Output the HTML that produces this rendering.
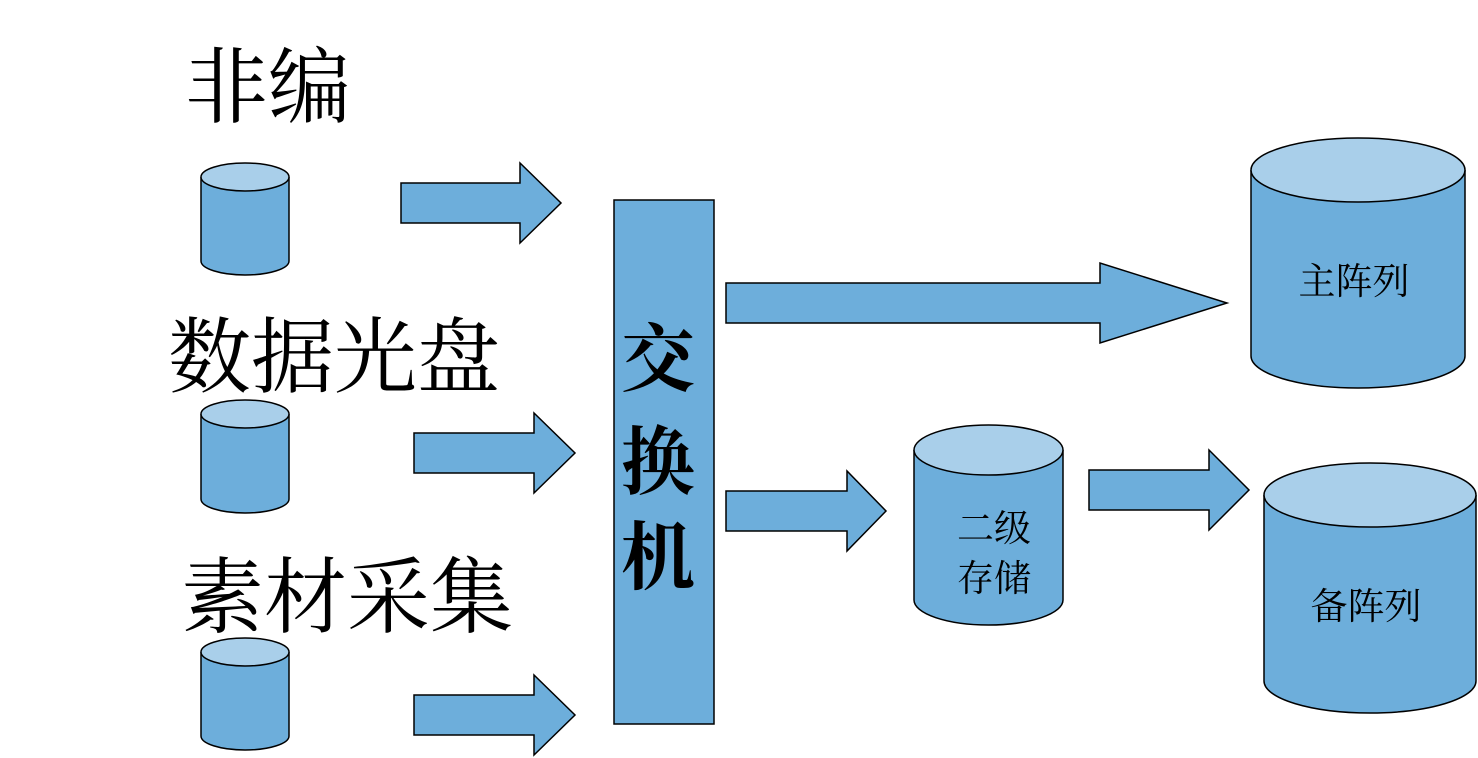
<!DOCTYPE html>
<html><head><meta charset="utf-8"><style>
html,body{margin:0;padding:0;background:#fff;}
svg{display:block}
text{font-family:"Liberation Serif","Noto Serif CJK SC",serif;fill:#000}
</style></head><body>
<svg width="1478" height="758" viewBox="0 0 1478 758" xmlns="http://www.w3.org/2000/svg">
<g stroke="#000" stroke-width="1.5">
<g>
<path d="M201 177 V261 A44 14 0 0 0 289 261 V177" fill="#6DAEDB"/>
<ellipse cx="245" cy="177" rx="44" ry="14" fill="#A9CFEA"/>
</g>
<g>
<path d="M201 414 V499 A44 14 0 0 0 289 499 V414" fill="#6DAEDB"/>
<ellipse cx="245" cy="414" rx="44" ry="14" fill="#A9CFEA"/>
</g>
<g>
<path d="M201 652 V736 A44 14 0 0 0 289 736 V652" fill="#6DAEDB"/>
<ellipse cx="245" cy="652" rx="44" ry="14" fill="#A9CFEA"/>
</g>
<path d="M401 183 H520 V163 L561 203 L520 243 V223 H401 Z" fill="#6DAEDB"/>
<path d="M414 433 H534 V413 L575 453 L534 493 V473 H414 Z" fill="#6DAEDB"/>
<path d="M414 695 H534 V675 L575 715 L534 755 V735 H414 Z" fill="#6DAEDB"/>
<path d="M726 283 H1100 V263 L1227 303 L1100 343 V323 H726 Z" fill="#6DAEDB"/>
<path d="M726 491 H847 V471 L886 511 L847 551 V531 H726 Z" fill="#6DAEDB"/>
<path d="M1089 470 H1209 V450 L1249 490 L1209 530 V510 H1089 Z" fill="#6DAEDB"/>
<rect x="614" y="200" width="100" height="524" fill="#6DAEDB"/>
<path d="M914 450 V600 A74.5 25 0 0 0 1063 600 V450" fill="#6DAEDB"/>
<ellipse cx="988.5" cy="450" rx="74.5" ry="25" fill="#A9CFEA"/>
<path d="M1251 170 V356 A107 32 0 0 0 1465 356 V170" fill="#6DAEDB"/>
<ellipse cx="1358" cy="170" rx="107" ry="32" fill="#A9CFEA"/>
<path d="M1264 495 V681 A106 32 0 0 0 1476 681 V495" fill="#6DAEDB"/>
<ellipse cx="1370" cy="495" rx="106" ry="32" fill="#A9CFEA"/>
</g>
<text x="185" y="116" font-size="83">非编</text>
<text x="168" y="386" font-size="83">数据光盘</text>
<text x="181" y="626" font-size="83">素材采集</text>
<g font-size="74" font-weight="bold" text-anchor="middle">
<text x="658" y="385">交</text>
<text x="658" y="488">换</text>
<text x="658" y="583">机</text>
</g>
<g font-size="37" text-anchor="middle">
<text x="1354" y="294">主阵列</text>
<text x="1366" y="619">备阵列</text>
<text x="994" y="541">二级</text>
<text x="994" y="591">存储</text>
</g>
</svg>
</body></html>
